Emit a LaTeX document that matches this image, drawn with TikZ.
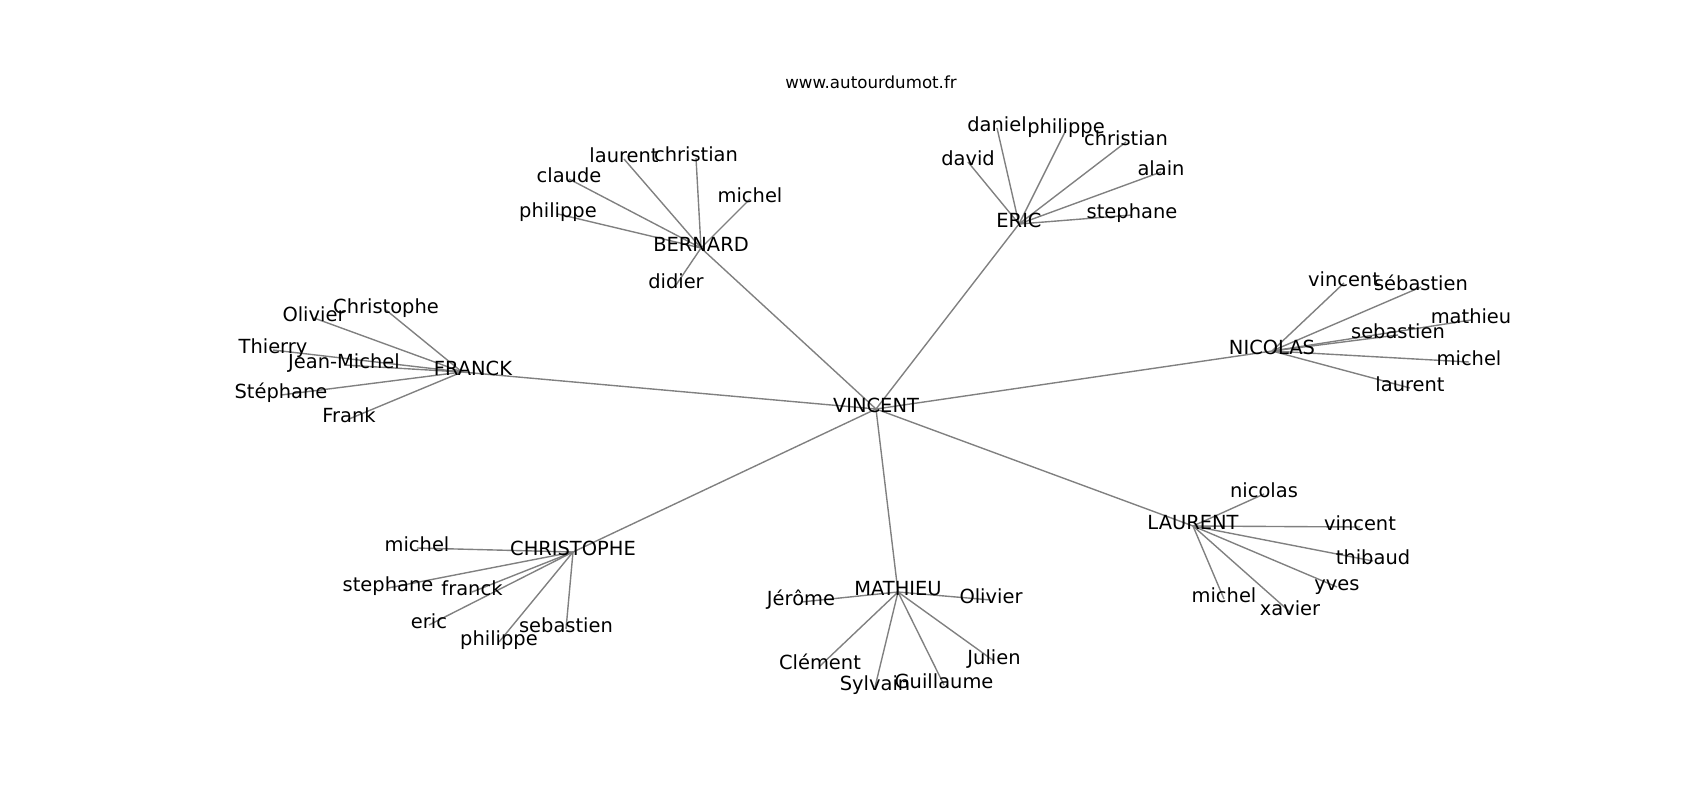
\documentclass[tikz,border=0pt]{standalone}
\usepackage{fontspec}
\setmainfont{DejaVu Sans}
\usepackage{tikz}
\usetikzlibrary{calc,backgrounds}

\begin{document}
\begin{tikzpicture}[x=0.72pt,y=-0.72pt,every node/.style={inner sep=0pt,outer sep=0pt,text height=0.76em,text depth=0.24em,font=\fontsize{14}{16}\selectfont}]
\tikzstyle{edge}=[draw=gray,line width=1pt]
\tikzstyle{title}=[font=\fontsize{12}{14}\selectfont]

\useasboundingbox (0,0) rectangle (1700,800);

\node (title_node) at (871,85) [title] {www.autourdumot.fr};

\node (vincent_node) at (876,409) {VINCENT};
\node (bernard_node) at (701,248) {BERNARD};
\coordinate (franck_hub) at (462,372);
\node (franck_node) at ($(franck_hub)+(11,0)$) {FRANCK};
\node (eric_node) at (1019,224) {ERIC};
\node (nicolas_node) at (1272,351) {NICOLAS};
\node (christophe_node) at (573,552) {CHRISTOPHE};
\node (mathieu_node) at (898,592) {MATHIEU};
\node (laurent_node) at (1193,526) {LAURENT};

\node (b_laurent) at ($(bernard_node)+(-77,-89)$) {laurent};
\node (b_christian) at ($(bernard_node)+(-5,-90)$) {christian};
\node (b_claude) at ($(bernard_node)+(-132,-69)$) {claude};
\node (b_michel) at ($(bernard_node)+(49,-49)$) {michel};
\node (b_philippe) at ($(bernard_node)+(-143,-34)$) {philippe};
\node (b_didier) at ($(bernard_node)+(-25,37)$) {didier};

\node (f_olivier) at ($(franck_hub)+(-148,-54)$) {Olivier};
\node (f_christophe) at ($(franck_hub)+(-76,-62)$) {Christophe};
\node (f_thierry) at ($(franck_hub)+(-189,-22)$) {Thierry};
\node (f_jeanmichel) at ($(franck_hub)+(-118,-7)$) {Jean-Michel};
\node (f_stephane) at ($(franck_hub)+(-181,23)$) {Stéphane};
\node (f_frank) at ($(franck_hub)+(-113,47)$) {Frank};

\node (e_daniel) at ($(eric_node)+(-22,-96)$) {daniel};
\node (e_philippe) at ($(eric_node)+(47,-94)$) {philippe};
\node (e_christian) at ($(eric_node)+(107,-82)$) {christian};
\node (e_david) at ($(eric_node)+(-51,-62)$) {david};
\node (e_alain) at ($(eric_node)+(142,-52)$) {alain};
\node (e_stephane) at ($(eric_node)+(113,-9)$) {stephane};

\node (n_vincent) at ($(nicolas_node)+(72,-68)$) {vincent};
\node (n_sebastien_a) at ($(nicolas_node)+(149,-64)$) {sébastien};
\node (n_mathieu) at ($(nicolas_node)+(199,-31)$) {mathieu};
\node (n_sebastien_b) at ($(nicolas_node)+(126,-16)$) {sebastien};
\node (n_michel) at ($(nicolas_node)+(197,11)$) {michel};
\node (n_laurent) at ($(nicolas_node)+(138,37)$) {laurent};

\node (c_michel) at ($(christophe_node)+(-156,-4)$) {michel};
\node (c_stephane) at ($(christophe_node)+(-185,36)$) {stephane};
\node (c_franck) at ($(christophe_node)+(-101,40)$) {franck};
\node (c_eric) at ($(christophe_node)+(-144,73)$) {eric};
\node (c_philippe) at ($(christophe_node)+(-74,90)$) {philippe};
\node (c_sebastien) at ($(christophe_node)+(-7,77)$) {sebastien};

\node (m_jerome) at ($(mathieu_node)+(-97,10)$) {Jérôme};
\node (m_olivier) at ($(mathieu_node)+(93,8)$) {Olivier};
\node (m_clement) at ($(mathieu_node)+(-78,74)$) {Clément};
\node (m_sylvain) at ($(mathieu_node)+(-23,95)$) {Sylvain};
\node (m_guillaume) at ($(mathieu_node)+(46,93)$) {Guillaume};
\node (m_julien) at ($(mathieu_node)+(96,69)$) {Julien};

\node (l_nicolas) at ($(laurent_node)+(71,-32)$) {nicolas};
\node (l_vincent) at ($(laurent_node)+(167,1)$) {vincent};
\node (l_thibaud) at ($(laurent_node)+(180,35)$) {thibaud};
\node (l_yves) at ($(laurent_node)+(144,61)$) {yves};
\node (l_michel) at ($(laurent_node)+(31,73)$) {michel};
\node (l_xavier) at ($(laurent_node)+(97,86)$) {xavier};

\begin{pgfonlayer}{background}
\draw [edge] (vincent_node.center) -- (bernard_node.center);
\draw [edge] (vincent_node.center) -- (franck_hub);
\draw [edge] (vincent_node.center) -- (eric_node.center);
\draw [edge] (vincent_node.center) -- (nicolas_node.center);
\draw [edge] (vincent_node.center) -- (christophe_node.center);
\draw [edge] (vincent_node.center) -- (mathieu_node.center);
\draw [edge] (vincent_node.center) -- (laurent_node.center);

\draw [edge] (bernard_node.center) -- (b_laurent.center);
\draw [edge] (bernard_node.center) -- (b_christian.center);
\draw [edge] (bernard_node.center) -- (b_claude.center);
\draw [edge] (bernard_node.center) -- (b_michel.center);
\draw [edge] (bernard_node.center) -- (b_philippe.center);
\draw [edge] (bernard_node.center) -- (b_didier.center);

\draw [edge] (franck_hub) -- (f_olivier.center);
\draw [edge] (franck_hub) -- (f_christophe.center);
\draw [edge] (franck_hub) -- (f_thierry.center);
\draw [edge] (franck_hub) -- (f_jeanmichel.center);
\draw [edge] (franck_hub) -- (f_stephane.center);
\draw [edge] (franck_hub) -- (f_frank.center);

\draw [edge] (eric_node.center) -- (e_daniel.center);
\draw [edge] (eric_node.center) -- (e_philippe.center);
\draw [edge] (eric_node.center) -- (e_christian.center);
\draw [edge] (eric_node.center) -- (e_david.center);
\draw [edge] (eric_node.center) -- (e_alain.center);
\draw [edge] (eric_node.center) -- (e_stephane.center);

\draw [edge] (nicolas_node.center) -- (n_vincent.center);
\draw [edge] (nicolas_node.center) -- (n_sebastien_a.center);
\draw [edge] (nicolas_node.center) -- (n_mathieu.center);
\draw [edge] (nicolas_node.center) -- (n_sebastien_b.center);
\draw [edge] (nicolas_node.center) -- (n_michel.center);
\draw [edge] (nicolas_node.center) -- (n_laurent.center);

\draw [edge] (christophe_node.center) -- (c_michel.center);
\draw [edge] (christophe_node.center) -- (c_stephane.center);
\draw [edge] (christophe_node.center) -- (c_franck.center);
\draw [edge] (christophe_node.center) -- (c_eric.center);
\draw [edge] (christophe_node.center) -- (c_philippe.center);
\draw [edge] (christophe_node.center) -- (c_sebastien.center);

\draw [edge] (mathieu_node.center) -- (m_jerome.center);
\draw [edge] (mathieu_node.center) -- (m_olivier.center);
\draw [edge] (mathieu_node.center) -- (m_clement.center);
\draw [edge] (mathieu_node.center) -- (m_sylvain.center);
\draw [edge] (mathieu_node.center) -- (m_guillaume.center);
\draw [edge] (mathieu_node.center) -- (m_julien.center);

\draw [edge] (laurent_node.center) -- (l_nicolas.center);
\draw [edge] (laurent_node.center) -- (l_vincent.center);
\draw [edge] (laurent_node.center) -- (l_thibaud.center);
\draw [edge] (laurent_node.center) -- (l_yves.center);
\draw [edge] (laurent_node.center) -- (l_michel.center);
\draw [edge] (laurent_node.center) -- (l_xavier.center);
\end{pgfonlayer}

\end{tikzpicture}
\end{document}
